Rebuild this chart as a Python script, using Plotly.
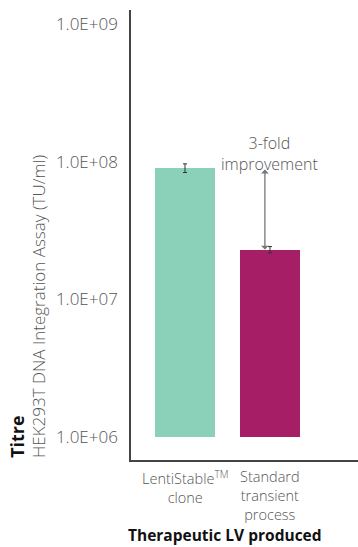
import math
import plotly.graph_objects as go

# Titre of therapeutic lentiviral vector produced (TU/ml)
categories = ["LentiStable", "Standard"]
tick_labels = ["LentiStable<sup>TM</sup><br>clone", "Standard<br>transient<br>process"]
titre = [9.0e7, 2.3e7]
titre_err = [0.65e7, 0.12e7]
bar_colors = ["#8bd0b9", "#a61f66"]
base_value = 1e6
y_tick_vals = [1e6, 1e7, 1e8, 1e9]
y_tick_text = ["1.0E+06", "1.0E+07", "1.0E+08", "1.0E+09"]
fold_label = "3-fold<br>improvement"

LIGHT = "Open Sans"
BOLD = "Open Sans"
GRAY = "#555555"

W, H = 358, 547
M_L, M_R, M_T, M_B = 131, 0, 10, 87
PLOT_H = H - M_T - M_B


def paper_y(px):
    """Convert a pixel row (from the top) into a paper y coordinate."""
    return (H - M_B - px) / PLOT_H


fig = go.Figure()

# bars rising from 1.0E+06
fig.add_trace(go.Bar(
    x=categories,
    y=[v - base_value for v in titre],
    base=[base_value] * len(titre),
    marker=dict(color=bar_colors, line=dict(width=0)),
    width=0.706,
    showlegend=False,
    hoverinfo="skip",
))

# error bars at the top of each bar
fig.add_trace(go.Scatter(
    x=categories,
    y=titre,
    mode="markers",
    marker=dict(size=1, opacity=0),
    error_y=dict(type="data", array=titre_err, visible=True,
                 color="#333333", thickness=1, width=2),
    showlegend=False,
    hoverinfo="skip",
))

# double-headed arrow showing the fold difference
fig.add_annotation(
    x=0.94, y=math.log10(titre[1]),
    ax=0.94, ay=math.log10(titre[0]),
    xref="x", yref="y", axref="x", ayref="y",
    text="", showarrow=True,
    arrowhead=1, startarrowhead=1, arrowside="end+start",
    arrowsize=1, arrowwidth=1.3, arrowcolor="#777777",
)
fig.add_annotation(
    x=0.995, y=paper_y(154),
    xref="x", yref="paper", yanchor="middle",
    text=fold_label, showarrow=False,
    font=dict(family=LIGHT, size=16, color=GRAY, weight=300),
)

# category labels under the axis
for cat, label in zip(categories, tick_labels):
    fig.add_annotation(
        x=cat, y=paper_y(465),
        xref="x", yref="paper", yanchor="top",
        text=label, showarrow=False,
        font=dict(family=LIGHT, size=14.5, color=GRAY, weight=300),
    )

# y-axis title: two rotated lines
fig.add_annotation(
    x=-0.505, y=0, xref="paper", yref="paper",
    xanchor="center", yanchor="bottom",
    text="<b>Titre</b>", textangle=-90, showarrow=False,
    font=dict(family=BOLD, size=18, color="#111111", weight=800),
)
fig.add_annotation(
    x=-0.408, y=0, xref="paper", yref="paper",
    xanchor="center", yanchor="bottom",
    text="HEK293T DNA Integration Assay (TU/ml)", textangle=-90, showarrow=False,
    font=dict(family=LIGHT, size=17, color=GRAY, weight=300),
)

# x-axis title
fig.add_annotation(
    x=0.415, y=paper_y(535), xref="paper", yref="paper",
    xanchor="center", yanchor="middle",
    text="<b>Therapeutic LV produced</b>", showarrow=False,
    font=dict(family=BOLD, size=15.5, color="#111111", weight=800),
)

fig.update_layout(
    width=W, height=H,
    margin=dict(l=M_L, r=M_R, t=M_T, b=M_B),
    paper_bgcolor="white", plot_bgcolor="white",
    font=dict(family=LIGHT, color=GRAY),
    bargap=0,
)
fig.update_xaxes(
    type="category",
    range=[-0.635, 2.035],
    showline=True, linecolor="#444444", linewidth=1.5,
    showgrid=False, zeroline=False, ticks="",
    showticklabels=False,
)
fig.update_yaxes(
    type="log",
    range=[5.834, 9.1017],
    tickvals=y_tick_vals, ticktext=y_tick_text,
    showline=True, linecolor="#444444", linewidth=1.5,
    showgrid=False, zeroline=False, ticks="",
    tickfont=dict(family=LIGHT, size=17, color=GRAY, weight=300),
    ticklabelstandoff=8,
)

fig.write_html("out.html")
